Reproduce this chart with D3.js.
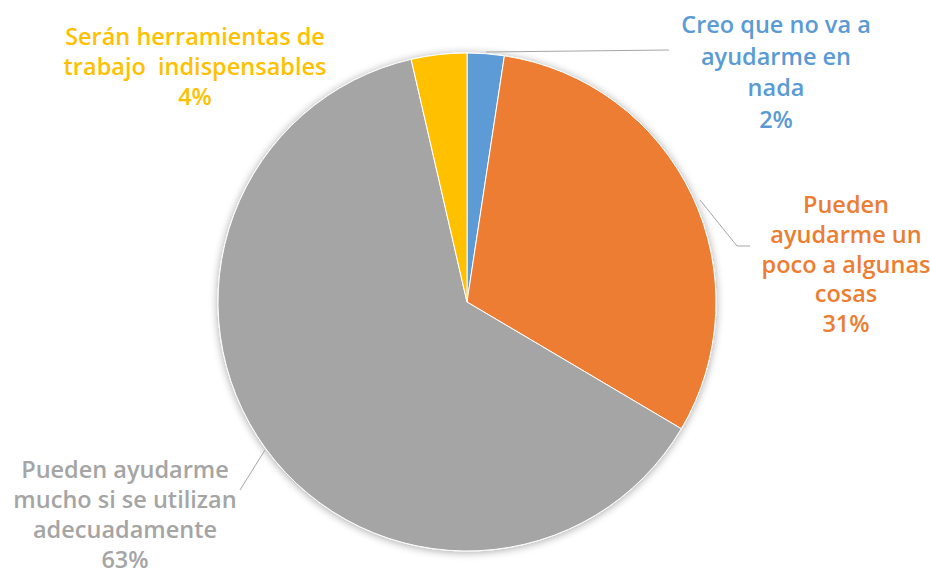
<!DOCTYPE html>
<html><head><meta charset="utf-8">
<script src="https://cdn.jsdelivr.net/npm/d3@7"></script>
<style>
html,body{margin:0;padding:0;background:#fff;}
svg{display:block;}
text{font-family:"Open Sans",sans-serif;font-weight:600;}
</style></head>
<body><svg id="c" width="930" height="575"></svg>
<script>
// Data
const categories = [
  "Creo que no va a ayudarme en nada",
  "Pueden ayudarme un poco a algunas cosas",
  "Pueden ayudarme mucho si se utilizan adecuadamente",
  "Serán herramientas de trabajo indispensables"
];
const values = [2.4, 31.1, 62.9, 3.6];
const labelLines = [
  ["Creo que no va a", "ayudarme en", "nada"],
  ["Pueden", "ayudarme un", "poco a algunas", "cosas"],
  ["Pueden ayudarme", "mucho si se utilizan", "adecuadamente"],
  ["Serán herramientas de", "trabajo  indispensables"]
];
const colors = ["#5B9BD5", "#ED7D31", "#A5A5A5", "#FFC000"];

// Layout
const cx = 467, cy = 302, R = 249;
const labelPos = [
  {x:776, y:33, lh:31.7},
  {x:846, y:213, lh:29.8},
  {x:125, y:478, lh:30},
  {x:195, y:45, lh:30}
];
const leaders = [
  [[486,52],[669,50]],
  [[700,200],[737,246],[750,246]],
  [[265,450],[240,490]],
  null
];

const svg = d3.select("#c");
const defs = svg.append("defs");
const f = defs.append("filter").attr("id","sh").attr("x","-20%").attr("y","-20%").attr("width","140%").attr("height","140%");
f.append("feGaussianBlur").attr("in","SourceAlpha").attr("stdDeviation",4).attr("result","b");
f.append("feOffset").attr("in","b").attr("dx",0).attr("dy",1).attr("result","o");
f.append("feComponentTransfer").attr("in","o").attr("result","o2")
  .append("feFuncA").attr("type","linear").attr("slope",0.35);
const m = f.append("feMerge");
m.append("feMergeNode").attr("in","o2");
m.append("feMergeNode").attr("in","SourceGraphic");

const pie = d3.pie().sort(null).value(d => d)(values);
const arc = d3.arc().innerRadius(0).outerRadius(R);
const g = svg.append("g").attr("transform", `translate(${cx},${cy})`);
const gp = g.append("g").attr("filter","url(#sh)");
gp.selectAll("path").data(pie).join("path")
  .attr("d", arc)
  .attr("fill", (d,i) => colors[i])
  .attr("stroke", "#fff").attr("stroke-width", 1);

// Leaders
const line = d3.line();
leaders.forEach(l => {
  if (!l) return;
  svg.append("path").attr("d", line(l)).attr("fill","none")
    .attr("stroke","#A6A6A6").attr("stroke-width",1);
});

// Labels
const fmt = v => Math.round(v) + "%";
labelLines.forEach((lines, i) => {
  const all = lines.concat([fmt(values[i])]);
  const p = labelPos[i];
  const t = svg.append("text").attr("text-anchor","middle")
    .attr("fill", colors[i]).attr("font-size", 23.5);
  all.forEach((s, k) => {
    t.append("tspan").attr("x", p.x).attr("y", p.y + k*p.lh)
      .attr("xml:space","preserve").text(s);
  });
});
</script></body></html>
